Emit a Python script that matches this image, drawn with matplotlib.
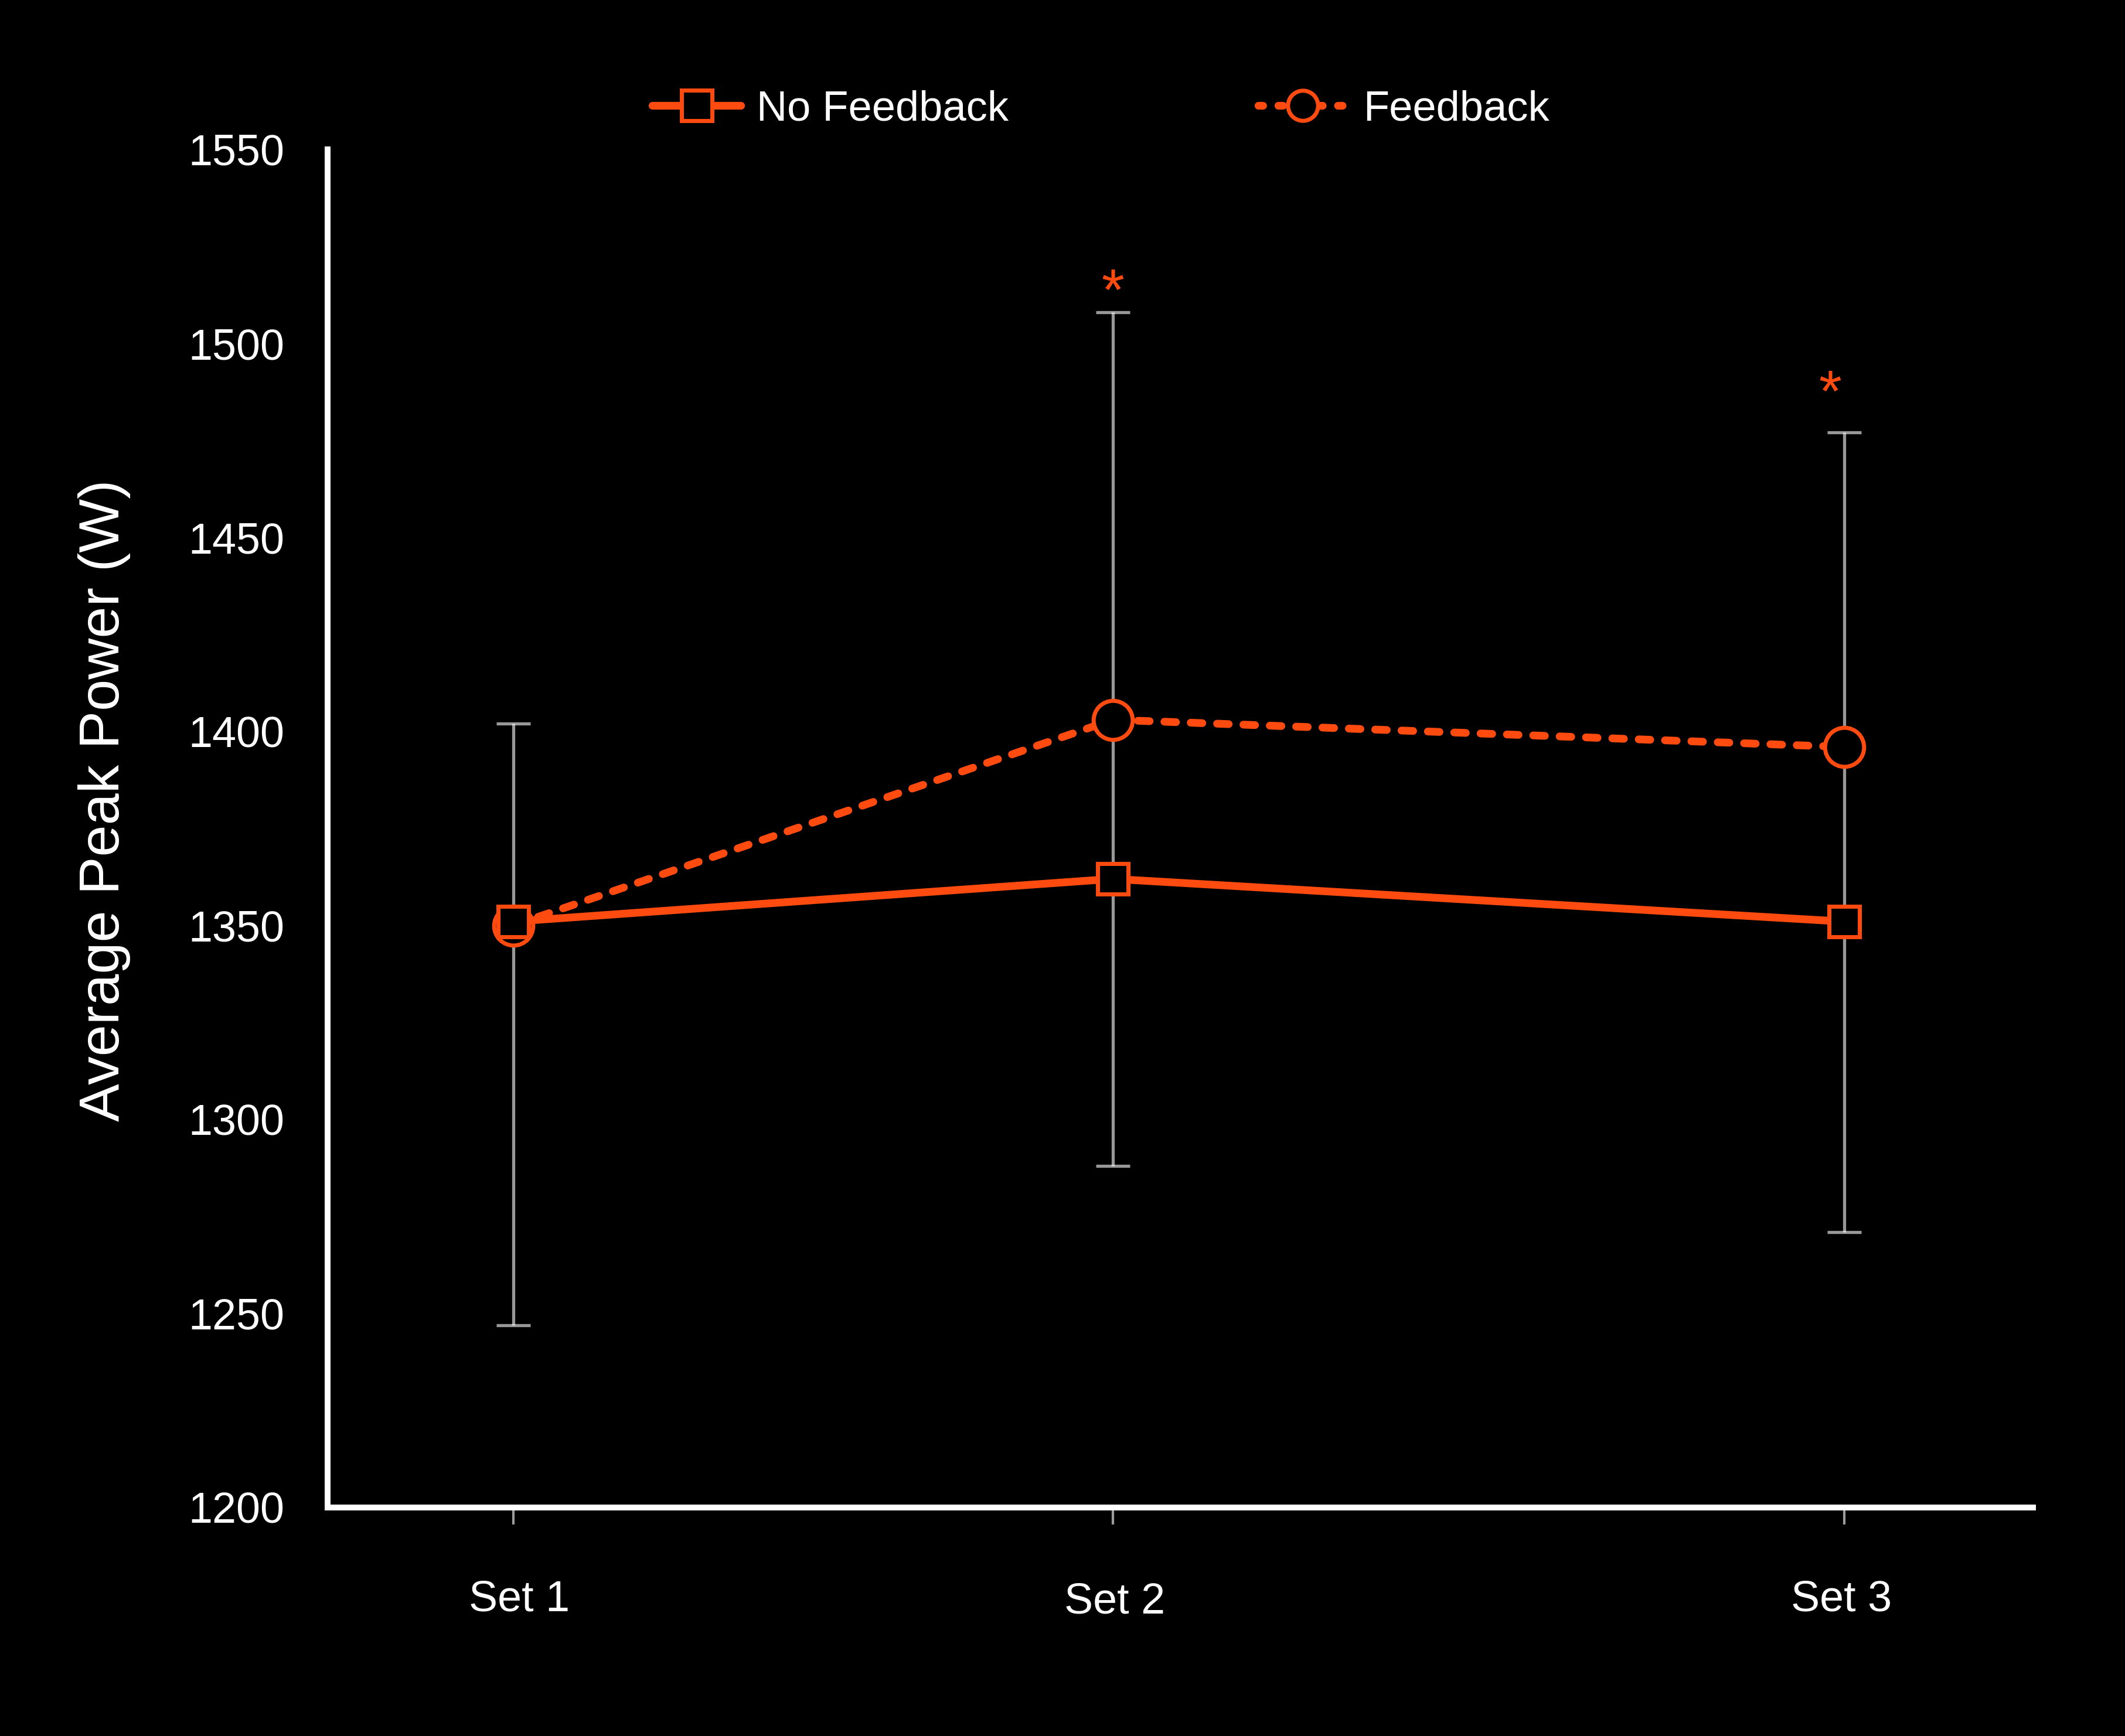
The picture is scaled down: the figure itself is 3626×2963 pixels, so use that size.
import matplotlib
matplotlib.use("Agg")
import matplotlib.pyplot as plt
from matplotlib.lines import Line2D
import matplotlib.transforms as mtransforms
import numpy as np

plt.rcParams['font.family'] = ['Liberation Sans', 'DejaVu Sans']

# ---- data ----
sets = ["Set 1", "Set 2", "Set 3"]
set_positions = [1.0, 2.0, 3.22]
no_feedback = [1351, 1362, 1351]
feedback = [1350, 1403, 1396]
err_low = [1247, 1288, 1271]
err_high = [1402, 1508, 1477]
sig_sets = [2.0, 3.197]
sig_y = [1517, 1491]
yticks = [1200, 1250, 1300, 1350, 1400, 1450, 1500, 1550]

ORANGE = '#FF4B0F'
W, H = 3626, 2963
fig = plt.figure(figsize=(W / 100, H / 100), dpi=100, facecolor='black')
ax = fig.add_axes([559 / W, 1 - 2573 / H, (3469 - 559) / W, (2573 - 255) / H])
ax.set_facecolor('black')

LW = 9.5

# error bars
lo = np.array(err_low, dtype=float)
hi = np.array(err_high, dtype=float)
ax.errorbar(set_positions, lo, yerr=[np.zeros_like(lo), hi - lo], fmt='none',
            ecolor='white', alpha=0.6, elinewidth=3.8, capsize=21, capthick=3.8,
            zorder=1)

# Feedback (dashed, circles)
ax.plot(set_positions, feedback, color=ORANGE, lw=LW, linestyle=(0, (1.5, 1.91)),
        dash_capstyle='round', marker='o', markersize=48, markeredgewidth=5,
        markerfacecolor='black', markeredgecolor=ORANGE, zorder=3)
# No feedback (solid, squares)
ax.plot(set_positions, no_feedback, color=ORANGE, lw=LW, solid_capstyle='round',
        marker='s', markersize=38, markeredgewidth=5, markerfacecolor='black',
        markeredgecolor=ORANGE, zorder=4)

# significance asterisks
for sx, sy in zip(sig_sets, sig_y):
    ax.annotate('*', xy=(sx, sy), xytext=(0, -40), textcoords='offset points',
                ha='center', va='baseline', color=ORANGE, fontsize=72)

ax.set_xlim(0.6905, 3.535)
ax.set_ylim(1200, 1550)
ax.set_yticks(yticks)
ax.set_yticklabels([str(v) for v in yticks])
ax.set_xticks(set_positions)
ax.set_xticklabels(sets)

ax.tick_params(axis='y', length=0, pad=53, labelsize=53, labelcolor='white')
ax.tick_params(axis='x', length=21, width=3, color='#9b9b9b', direction='out',
               pad=67, labelsize=53, labelcolor='white')

# small per-label offsets as in the reference
for lab, dx, dy in zip(ax.get_xticklabels(), [10, 3, -5], [0, -4, 0]):
    lab.set_transform(lab.get_transform() +
                      mtransforms.ScaledTranslation(dx / 100, dy / 100, fig.dpi_scale_trans))

for s in ['top', 'right']:
    ax.spines[s].set_visible(False)
for s in ['left', 'bottom']:
    ax.spines[s].set_color('white')
    ax.spines[s].set_linewidth(7.2)
    ax.spines[s].set_capstyle('projecting')

fig.text(178 / W, 1 - 1366 / H, 'Average Peak Power (W)', rotation=90,
         ha='center', va='center', color='white', fontsize=70)

# legend
h1 = Line2D([], [], color=ORANGE, lw=LW, solid_capstyle='round', marker='s',
            markersize=38, markeredgewidth=5, markerfacecolor='black',
            markeredgecolor=ORANGE)
h2 = Line2D([], [], color=ORANGE, lw=LW, linestyle=(0, (0.59, 1.98)),
            dash_capstyle='round', marker='o', markersize=37, markeredgewidth=5,
            markerfacecolor='black', markeredgecolor=ORANGE)
leg = fig.legend([h1, h2], ['No Feedback', 'Feedback'], loc='center',
                 bbox_to_anchor=(1878 / W, 1 - 187 / H), ncol=2, frameon=False,
                 fontsize=52, handlelength=2.1, handletextpad=0.37,
                 columnspacing=5.9, borderpad=0, labelcolor='white')

fig.savefig('out.png', dpi=100, facecolor='black')
